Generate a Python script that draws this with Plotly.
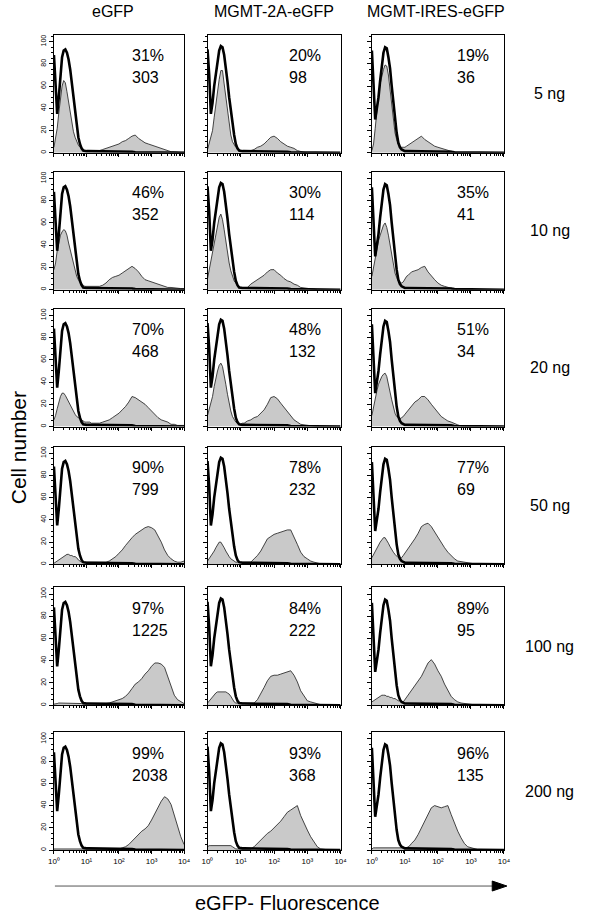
import plotly.graph_objects as go

# ---------------- data ----------------
# fluorescence bins (log10 of eGFP intensity)
LOG_GRID = [0.00, 0.05, 0.10, 0.15, 0.20, 0.25, 0.30, 0.35, 0.40, 0.45, 0.50, 0.55, 0.60,
            0.65, 0.70, 0.75, 0.80, 0.85, 0.90, 0.95, 1.00, 1.05, 1.10, 1.15, 1.20,
            1.3, 1.4, 1.5, 1.6, 1.7, 1.8, 1.9, 2.0, 2.1, 2.2, 2.3, 2.4, 2.5, 2.6, 2.7,
            2.8, 2.9, 3.0, 3.1, 3.2, 3.3, 3.4, 3.5, 3.6, 3.7, 3.8, 3.9, 4.0]

CONSTRUCTS = ["eGFP", "MGMT-2A-eGFP", "MGMT-IRES-eGFP"]
DOSES = ["5 ng", "10 ng", "20 ng", "50 ng", "100 ng", "200 ng"]

PERCENT = [["31%", "20%", "19%"],
           ["46%", "30%", "35%"],
           ["70%", "48%", "51%"],
           ["90%", "78%", "77%"],
           ["97%", "84%", "89%"],
           ["99%", "93%", "96%"]]
MFI = [["303", "98", "36"],
       ["352", "114", "41"],
       ["468", "132", "34"],
       ["799", "232", "69"],
       ["1225", "222", "95"],
       ["2038", "368", "135"]]

# untransfected control (black outline), one per construct column
CONTROL_EGFP = [88, 60, 35, 50, 72, 86, 92, 93, 90, 84, 75, 62, 48, 36, 24, 14, 8, 4, 2, 1.5, 1.5, 1.5, 1.5, 1.5, 1.5,
                1.5, 1.5, 1.5, 1.5, 1.5, 1.5, 1.5, 1, 1, 1, 1, 1, 0.5, 0.5, 0.5, 0.5, 0.5, 0.5, 0.5, 0, 0, 0, 0, 0, 0, 0, 0, 0]
CONTROL_2A = [93, 70, 35, 45, 60, 72, 84, 92, 96, 95, 88, 78, 64, 50, 38, 26, 16, 8, 4, 2, 1.5, 1.5, 1.5, 1.5, 1.5,
              1.5, 1.5, 1.5, 1.5, 1.5, 1.5, 1.5, 1, 1, 1, 1, 1, 0.5, 0.5, 0.5, 0.5, 0.5, 0.5, 0.5, 0, 0, 0, 0, 0, 0, 0, 0, 0]
CONTROL_IRES = [92, 60, 30, 40, 50, 65, 80, 90, 95, 94, 86, 76, 60, 45, 30, 18, 9, 5, 3, 2, 1.5, 1.5, 1.5, 1.5, 1.5,
                1.5, 1.5, 1.5, 1.5, 1.5, 1.5, 1.5, 1, 1, 1, 1, 1, 0.5, 0.5, 0.5, 0.5, 0.5, 0.5, 0.5, 0, 0, 0, 0, 0, 0, 0, 0, 0]

# transfected samples (grey filled), rows = DNA dose, columns = construct
EGFP_5 = [5, 12, 22, 36, 50, 60, 65, 63, 55, 45, 35, 27, 19, 14, 10, 7, 5, 4, 3, 2, 2, 2, 2, 2, 2,
          2, 2, 3, 4, 5, 6, 7, 8, 10, 11, 13, 15, 16, 13, 11, 9, 8, 7, 6, 5, 4, 3, 2, 1, 1, 0.5, 0.5, 0.5]
TWOA_5 = [3, 8, 14, 20, 32, 44, 55, 66, 74, 74, 62, 50, 38, 26, 16, 10, 7, 5, 4, 3, 2, 2, 2, 2, 2,
          2, 3, 5, 6, 8, 11, 14, 15, 13, 10, 8, 6, 5, 4, 2, 1, 0.5, 0, 0, 0, 0, 0, 0, 0, 0, 0, 0, 0]
IRES_5 = [2, 8, 22, 40, 52, 62, 70, 75, 79, 78, 70, 58, 44, 30, 18, 12, 8, 6, 5, 5, 5, 6, 7, 8, 9,
          11, 13, 15, 12, 10, 8, 6, 5, 4, 3, 2, 1, 0.5, 0, 0, 0, 0, 0, 0, 0, 0, 0, 0, 0, 0, 0, 0, 0]

EGFP_10 = [18, 24, 35, 43, 49, 52, 54, 53, 49, 42, 36, 29, 22, 17, 12, 9, 7, 5, 4, 3, 3, 3, 3, 3, 3,
           3, 3, 4, 6, 9, 11, 12, 13, 15, 17, 19, 21, 19, 16, 12, 9, 8, 7, 6, 5, 4, 3, 2, 2, 1.5, 1, 1, 1]
TWOA_10 = [10, 18, 26, 33, 42, 51, 59, 65, 68, 63, 54, 43, 33, 24, 17, 12, 8, 6, 4, 3, 2, 2, 2, 2, 2,
           5, 7, 9, 11, 13, 16, 18, 18, 15, 13, 10, 8, 7, 5, 4, 2, 1.5, 1, 0.5, 0, 0, 0, 0, 0, 0, 0, 0, 0]
IRES_10 = [12, 20, 30, 37, 44, 49, 54, 58, 60, 56, 49, 40, 30, 22, 15, 11, 8, 7, 6, 7, 10, 12, 13, 15, 16,
           17, 18, 20, 21, 16, 12, 9, 6, 4, 3, 2, 1, 0.5, 0, 0, 0, 0, 0, 0, 0, 0, 0, 0, 0, 0, 0, 0, 0]

EGFP_20 = [6, 10, 16, 22, 27, 30, 30, 28, 25, 22, 19, 16, 13, 11, 9, 8, 7, 6, 5, 4, 4, 4, 4, 3, 3,
           3, 3, 4, 5, 6, 8, 10, 12, 15, 18, 22, 27, 26, 24, 22, 20, 17, 14, 11, 8, 6, 5, 4, 2, 2, 1, 1, 1]
TWOA_20 = [10, 15, 20, 27, 36, 44, 50, 55, 57, 54, 47, 38, 29, 21, 14, 9, 6, 4, 3, 2, 2, 3, 3, 4, 5,
           6, 8, 9, 12, 15, 20, 26, 27, 25, 21, 17, 13, 9, 6, 4, 2, 1.5, 1, 0.5, 0, 0, 0, 0, 0, 0, 0, 0, 0]
IRES_20 = [10, 18, 26, 32, 38, 42, 45, 47, 48, 45, 39, 31, 24, 18, 12, 9, 8, 7, 8, 9, 11, 13, 15, 17, 19,
           22, 24, 27, 27, 24, 20, 16, 12, 9, 7, 5, 4, 2.5, 1.5, 0.5, 0, 0, 0, 0, 0, 0, 0, 0, 0, 0, 0, 0, 0]

EGFP_50 = [1, 2, 3, 4, 5, 6, 7, 8, 9, 9, 8, 8, 7, 7, 6, 4, 3, 2, 2, 2, 2, 2, 2, 2, 2,
           2, 2, 2, 2, 3, 5, 7, 10, 13, 17, 21, 24, 27, 29, 31, 33, 34, 33, 31, 26, 20, 13, 8, 5, 3, 2, 2, 3]
TWOA_50 = [3, 5, 7, 10, 12, 15, 18, 20, 20, 18, 15, 12, 9, 7, 5, 4, 3, 2, 2, 2, 2, 2, 2, 2, 2,
           2, 5, 8, 12, 17, 23, 25, 27, 28, 29, 30, 31, 31, 25, 18, 11, 7, 5, 3, 2, 1, 0.5, 0, 0, 0, 0, 0, 0]
IRES_50 = [6, 9, 12, 15, 17, 20, 22, 24, 24, 22, 19, 16, 13, 11, 9, 7, 6, 5, 6, 8, 10, 12, 15, 17, 19,
           23, 28, 34, 36, 37, 34, 29, 24, 19, 15, 11, 8, 5, 3, 2.5, 2, 1, 0.5, 0, 0, 0, 0, 0, 0, 0, 0, 0, 0]

EGFP_100 = [1, 1, 1.5, 2, 2, 2, 2, 2, 2, 2, 2, 2, 2, 2, 2, 2, 2, 1.5, 1, 1, 1, 1, 1, 1, 1,
            1, 1, 1, 1.5, 2, 3, 4, 5, 6, 8, 11, 15, 19, 21, 24, 28, 31, 35, 38, 38, 37, 34, 25, 16, 9, 5, 3, 1.5]
TWOA_100 = [2, 4, 6, 8, 10, 11, 12, 12, 12, 12, 12, 12, 11, 10, 8, 5, 3, 2, 2, 2, 2, 2, 2, 2, 2,
            2, 2, 5, 10, 16, 22, 26, 27, 27, 28, 29, 30, 31, 27, 21, 13, 8, 4, 3, 2, 1, 0.5, 0, 0, 0, 0, 0, 0]
IRES_100 = [3, 4, 5, 6, 7, 8, 9, 9, 9, 8, 8, 7, 7, 6, 6, 5, 4, 4, 3, 3, 5, 7, 10, 12, 14,
            18, 22, 26, 32, 38, 41, 37, 31, 26, 19, 13, 8, 5, 3, 2, 1.5, 1, 0.5, 0, 0, 0, 0, 0, 0, 0, 0, 0, 0]

EGFP_200 = [1, 1, 1, 1, 1, 1, 1, 1, 1, 1, 1, 1, 1, 1, 1, 1, 1, 1, 1, 0.5, 0.5, 0.5, 0.5, 0.5, 0.5,
            0.5, 0.5, 0.5, 0.5, 0.5, 0.5, 0.5, 1, 2, 3, 5, 8, 11, 14, 17, 19, 22, 27, 33, 39, 44, 48, 46, 41, 31, 21, 12, 5]
TWOA_200 = [3, 4, 4, 4, 4, 4, 4, 4, 4, 4, 4, 4, 4, 4, 4, 3, 2, 1, 1, 1, 1, 1, 1, 1, 1,
            1, 3, 6, 9, 12, 15, 17, 20, 23, 26, 30, 34, 36, 38, 40, 31, 24, 18, 12, 7, 3, 1, 0.5, 0, 0, 0, 0, 0]
IRES_200 = [1, 2, 2, 2, 2, 2, 2, 2, 2, 2, 2, 2, 2, 2, 2, 2, 2, 2, 2, 2, 2, 2, 3, 4, 6,
            9, 14, 20, 26, 32, 38, 40, 39, 38, 39, 40, 32, 24, 17, 11, 6, 3, 2, 1, 0.5, 0, 0, 0, 0, 0, 0, 0, 0]

CONTROLS = [CONTROL_EGFP, CONTROL_2A, CONTROL_IRES]
SAMPLES = [[EGFP_5, TWOA_5, IRES_5],
           [EGFP_10, TWOA_10, IRES_10],
           [EGFP_20, TWOA_20, IRES_20],
           [EGFP_50, TWOA_50, IRES_50],
           [EGFP_100, TWOA_100, IRES_100],
           [EGFP_200, TWOA_200, IRES_200]]

Y_TICKS = [0, 20, 40, 60, 80, 100]
X_TICKS = [1, 10, 100, 1000, 10000]
X_TICKTEXT = ["10⁰", "10¹", "10²", "10³", "10⁴"]

# ---------------- layout geometry (pixels) ----------------
W, H = 600, 917
COL_X = [(49, 182), (206, 342), (374, 509)]
ROW_TOP = [35, 172, 309, 447, 588, 733]
PANEL_H = 118
TEXT_X = [127, 287, 459]
FONT = "Liberation Sans, Arial, sans-serif"


def px(x):
    return x / W


def py(y):
    return 1 - y / H


xs = [10 ** g for g in LOG_GRID]
minor_x = [m * 10 ** d for d in range(4) for m in range(2, 10)]

fig = go.Figure()
layout = dict(width=W, height=H, margin=dict(l=0, r=0, t=0, b=0),
              paper_bgcolor="white", plot_bgcolor="white", showlegend=False,
              font=dict(family=FONT, color="black"))
annotations = []

k = 0
for r in range(6):
    for c in range(3):
        k += 1
        xa = "x" if k == 1 else f"x{k}"
        ya = "y" if k == 1 else f"y{k}"
        fig.add_trace(go.Scatter(x=xs, y=SAMPLES[r][c], xaxis=xa, yaxis=ya, mode="lines",
                                 fill="tozeroy", fillcolor="#c9c9c9",
                                 line=dict(color="#1a1a1a", width=0.8), hoverinfo="skip"))
        fig.add_trace(go.Scatter(x=xs, y=CONTROLS[c], xaxis=xa, yaxis=ya, mode="lines",
                                 line=dict(color="black", width=2.6), hoverinfo="skip"))
        x0, x1 = COL_X[c]
        top = ROW_TOP[r]
        bot = top + PANEL_H
        layout["xaxis" if k == 1 else f"xaxis{k}"] = dict(
            type="log", range=[0, 4], domain=[px(x0), px(x1)], anchor=ya,
            showline=True, mirror=True, linecolor="black", linewidth=1,
            showgrid=False, zeroline=False,
            ticks="outside", ticklen=3, tickwidth=1, tickcolor="black",
            tickvals=X_TICKS, ticktext=X_TICKTEXT, showticklabels=(r == 5),
            tickfont=dict(size=8, family=FONT),
            minor=dict(ticks="outside", ticklen=2, tickcolor="black", tickvals=minor_x),
        )
        layout["yaxis" if k == 1 else f"yaxis{k}"] = dict(
            range=[0, 106], domain=[py(bot), py(top)], anchor=xa,
            showline=True, mirror=True, linecolor="black", linewidth=1,
            showgrid=False, zeroline=False,
            ticks="outside", ticklen=4, tickwidth=1, tickcolor="black",
            tickvals=Y_TICKS, showticklabels=(c == 0), tickangle=-90,
            tickfont=dict(size=7, family=FONT),
            minor=dict(ticks="outside", ticklen=2, tickcolor="black", dtick=5),
        )
        annotations.append(dict(text=PERCENT[r][c], x=px(TEXT_X[c]), y=py(top + 21),
                                xref="paper", yref="paper", xanchor="left", yanchor="middle",
                                showarrow=False, font=dict(size=16, family=FONT)))
        annotations.append(dict(text=MFI[r][c], x=px(TEXT_X[c]), y=py(top + 43),
                                xref="paper", yref="paper", xanchor="left", yanchor="middle",
                                showarrow=False, font=dict(size=16, family=FONT)))
    annotations.append(dict(text=DOSES[r], x=px(556), y=py(ROW_TOP[r] + PANEL_H / 2),
                            xref="paper", yref="paper", xanchor="center", yanchor="middle",
                            showarrow=False, font=dict(size=16, family=FONT)))

HEAD_X = [109, 274, 440]
for c in range(3):
    annotations.append(dict(text=CONSTRUCTS[c], x=px(HEAD_X[c]), y=py(12),
                            xref="paper", yref="paper", xanchor="center", yanchor="middle",
                            showarrow=False, font=dict(size=16, family=FONT)))

annotations.append(dict(text="Cell number", x=px(13), y=py(448), textangle=-90,
                        xref="paper", yref="paper", xanchor="center", yanchor="middle",
                        showarrow=False, font=dict(size=21, family=FONT)))
annotations.append(dict(text="eGFP- Fluorescence", x=px(288), y=py(904),
                        xref="paper", yref="paper", xanchor="center", yanchor="middle",
                        showarrow=False, font=dict(size=20, family=FONT)))

shapes = [
    dict(type="line", xref="paper", yref="paper", x0=px(50), x1=px(500), y0=py(887), y1=py(887),
         line=dict(color="#555555", width=1)),
    dict(type="path", xref="paper", yref="paper",
         path=f"M {px(497)} {py(882)} L {px(512)} {py(887)} L {px(497)} {py(892)} Z",
         fillcolor="black", line=dict(color="black", width=1)),
]

layout["annotations"] = annotations
layout["shapes"] = shapes
fig.update_layout(**layout)
fig.write_html("out.html", config={"displayModeBar": False},
               post_script="document.body.style.margin='0';document.body.style.overflow='hidden';")
